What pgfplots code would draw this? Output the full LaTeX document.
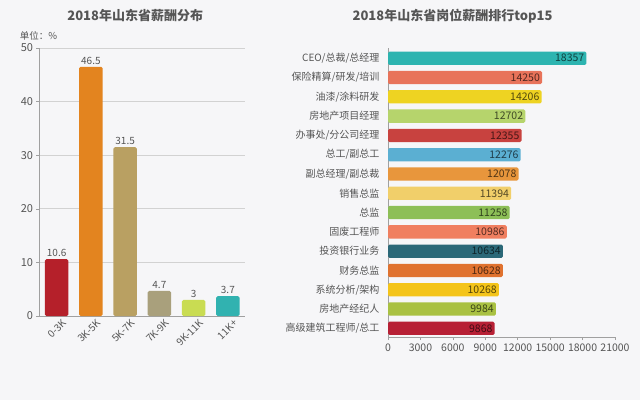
\documentclass[border=0pt]{standalone}
\usepackage{pgfplots}
\pgfplotsset{compat=1.18}
\usepackage{fontspec}
\setmainfont{Noto Sans CJK SC}
\definecolor{bgc}{HTML}{F6F6F8}
\definecolor{titlec}{HTML}{555555}
\definecolor{tickc}{HTML}{555555}
\definecolor{axc}{HTML}{A0A0A0}
\definecolor{gridc}{HTML}{D2D2D2}
% left bars
\definecolor{la}{HTML}{B5202A}
\definecolor{lb}{HTML}{E3841F}
\definecolor{lc}{HTML}{B9A062}
\definecolor{ld}{HTML}{A9A07C}
\definecolor{le}{HTML}{C9DC52}
\definecolor{lf}{HTML}{31B2B0}
% right bars
\definecolor{r1}{HTML}{2DB4B0}
\definecolor{r2}{HTML}{E8735A}
\definecolor{r3}{HTML}{EED322}
\definecolor{r4}{HTML}{B6D46C}
\definecolor{r5}{HTML}{C8423F}
\definecolor{r6}{HTML}{5BAFD2}
\definecolor{r7}{HTML}{E8963C}
\definecolor{r8}{HTML}{F1CF6A}
\definecolor{r9}{HTML}{8DBF57}
\definecolor{r10}{HTML}{F07F60}
\definecolor{r11}{HTML}{2B6878}
\definecolor{r12}{HTML}{E0722F}
\definecolor{r13}{HTML}{F4C41A}
\definecolor{r14}{HTML}{A9C142}
\definecolor{r15}{HTML}{B72035}
\begin{document}
\begin{tikzpicture}[x=1pt,y=1pt]
\fill[bgc] (0,0) rectangle (640,400);
% ---------------- left chart ----------------
\begin{axis}[
  at={(39.5pt,84pt)}, anchor=south west,
  scale only axis, width=205.5pt, height=268pt,
  xmin=-0.5, xmax=5.5, ymin=0, ymax=50,
  ybar, bar width=23.3pt, bar shift=0pt,
  axis x line*=bottom, axis y line*=left,
  axis line style={axc, line width=0.8pt, -},
  ytick={0,10,...,50},
  ymajorgrids, grid style={gridc, line width=0.8pt},
  xtick={0,...,5},
  xticklabels={0-3K,3K-5K,5K-7K,7K-9K,9K-11K,11K+},
  minor xtick={-0.5,0.5,...,5.5},
  xtick style={draw=none},
  minor x tick style={axc, line width=0.6pt},
  ytick style={axc, line width=0.6pt},
  tick align=outside, major tick length=3pt, minor tick length=3pt,
  xticklabel style={rotate=45, anchor=north east, font=\fontsize{10}{12}\selectfont, text=tickc, inner sep=0pt, yshift=-3pt, xshift=4pt},
  yticklabel style={font=\fontsize{11}{13}\selectfont, text=tickc},
  /pgf/number format/assume math mode=true,
  nodes near coords,
  every node near coord/.append style={font=\fontsize{10}{12}\selectfont, text=tickc, inner sep=2pt},
  every axis plot/.append style={draw=none, rounded corners=1.5pt},
  title={\bfseries 2018年山东省薪酬分布},
  title style={font=\fontsize{13}{15}\selectfont, text=titlec, at={(axis description cs:0.5,1)}, anchor=center, yshift=26pt, xshift=-7pt},
  clip=false,
]
\addplot[fill=la] coordinates {(0,10.6)};
\addplot[fill=lb] coordinates {(1,46.5)};
\addplot[fill=lc] coordinates {(2,31.5)};
\addplot[fill=ld] coordinates {(3,4.7)};
\addplot[fill=le] coordinates {(4,3)};
\addplot[fill=lf] coordinates {(5,3.7)};
\node[font=\fontsize{9.5}{11}\selectfont, text=tickc] at (axis description cs:-0.005,1.045) {单位：\%};
\end{axis}
% ---------------- right chart ----------------
\begin{axis}[
  at={(388pt,63pt)}, anchor=south west,
  scale only axis, width=227pt, height=289pt,
  xmin=0, xmax=21000, ymin=-0.53, ymax=14.45, y dir=reverse,
  xbar, bar width=13.3pt, bar shift=0pt,
  axis x line*=bottom, axis y line*=left,
  axis line style={axc, line width=0.8pt, -},
  xtick={0,3000,...,21000},
  scaled x ticks=false,
  /pgf/number format/1000 sep={},
  /pgf/number format/assume math mode=true,
  ytick={0,...,14},
  yticklabels={CEO/总裁/总经理,保险精算/研发/培训,油漆/涂料研发,房地产项目经理,办事处/分公司经理,总工/副总工,副总经理/副总裁,销售总监,总监,固废工程师,投资银行业务,财务总监,系统分析/架构,房地产经纪人,高级建筑工程师/总工},
  ytick style={draw=none},
  xtick style={axc, line width=0.6pt},
  tick align=outside, major tick length=3pt,
  xticklabel style={font=\fontsize{10.5}{12}\selectfont, text=tickc},
  yticklabel style={font=\fontsize{10}{12}\selectfont, text=tickc, xshift=-2pt},
  nodes near coords,
  every node near coord/.append style={font=\fontsize{10.5}{12}\selectfont, anchor=east, inner sep=2pt},
  every axis plot/.append style={draw=none, rounded corners=1.5pt},
  title={\bfseries 2018年山东省岗位薪酬排行top15},
  title style={font=\fontsize{13}{15}\selectfont, text=titlec, at={(axis description cs:0.5,1)}, anchor=center, yshift=26pt, xshift=-49pt},
  clip=false,
]
\addplot[fill=r1, every node near coord/.append style={text=r1!35!black}] coordinates {(18357,0)};
\addplot[fill=r2, every node near coord/.append style={text=r2!35!black}] coordinates {(14250,1)};
\addplot[fill=r3, every node near coord/.append style={text=r3!35!black}] coordinates {(14206,2)};
\addplot[fill=r4, every node near coord/.append style={text=r4!35!black}] coordinates {(12702,3)};
\addplot[fill=r5, every node near coord/.append style={text=r5!35!black}] coordinates {(12355,4)};
\addplot[fill=r6, every node near coord/.append style={text=r6!35!black}] coordinates {(12276,5)};
\addplot[fill=r7, every node near coord/.append style={text=r7!35!black}] coordinates {(12078,6)};
\addplot[fill=r8, every node near coord/.append style={text=r8!35!black}] coordinates {(11394,7)};
\addplot[fill=r9, every node near coord/.append style={text=r9!35!black}] coordinates {(11258,8)};
\addplot[fill=r10, every node near coord/.append style={text=r10!35!black}] coordinates {(10986,9)};
\addplot[fill=r11, every node near coord/.append style={text=r11!35!black}] coordinates {(10634,10)};
\addplot[fill=r12, every node near coord/.append style={text=r12!35!black}] coordinates {(10628,11)};
\addplot[fill=r13, every node near coord/.append style={text=r13!35!black}] coordinates {(10268,12)};
\addplot[fill=r14, every node near coord/.append style={text=r14!35!black}] coordinates {(9984,13)};
\addplot[fill=r15, every node near coord/.append style={text=r15!35!black}] coordinates {(9868,14)};
\end{axis}
\end{tikzpicture}
\end{document}
